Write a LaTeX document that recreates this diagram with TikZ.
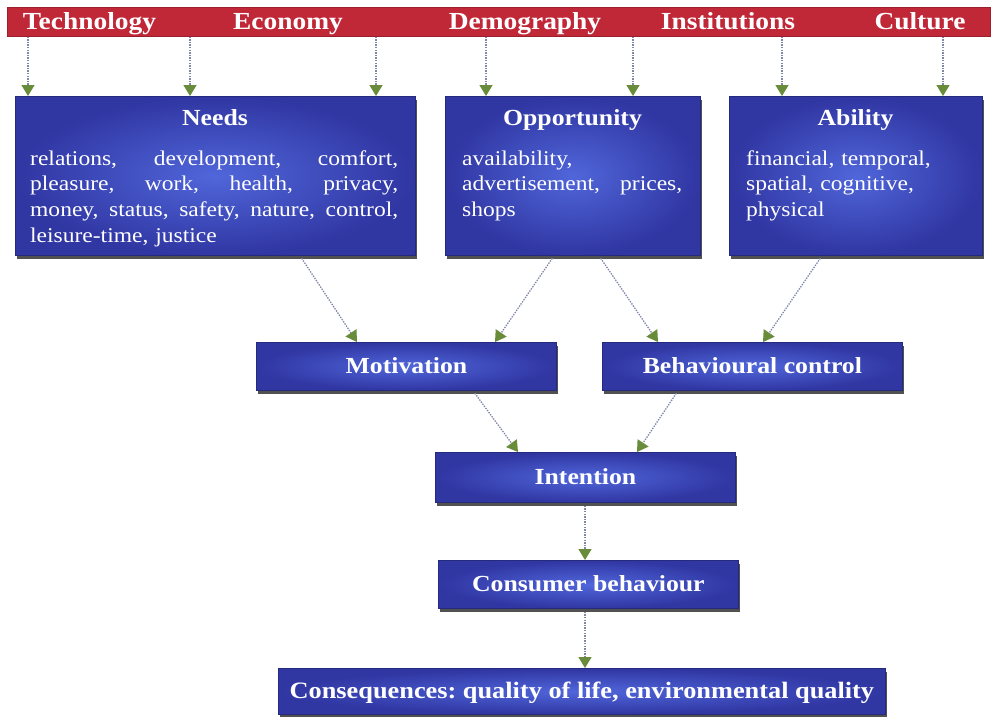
\documentclass[tikz,border=0pt]{standalone}
\usepackage{fontspec}
\setmainfont[FakeStretch=1.12]{Liberation Serif}
\usetikzlibrary{arrows.meta,shadows}
\definecolor{barred}{RGB}{192,40,56}
\definecolor{boxblue}{RGB}{48,54,162}
\definecolor{boxlight}{RGB}{80,102,218}
\definecolor{boxedge}{RGB}{38,42,125}
\definecolor{tipgreen}{RGB}{104,140,58}
\definecolor{dotgray}{RGB}{128,134,168}
\tikzset{
  boxsty/.style={draw=boxedge, line width=0.8pt, shading=radial, inner color=boxlight, outer color=boxblue,
    drop shadow={shadow xshift=2pt, shadow yshift=-3.5pt, fill=black!80, opacity=0.85},
    inner sep=0pt, anchor=north west, text=white},
  smallbox/.style={boxsty, font=\bfseries\fontsize{23}{27}\selectfont, text height=15pt, text depth=0pt},
  titletxt/.style={anchor=base, text=white, inner sep=0pt, font=\bfseries\fontsize{23}{27}\selectfont},
  bodytxt/.style={anchor=north west, text=white, inner sep=0pt, align=left, font=\fontsize{21}{25.7}\selectfont},
  bartxt/.style={anchor=base, text=white, inner sep=0pt, font=\bfseries\fontsize{24.5}{28}\selectfont},
  arr/.style={draw=dotgray, line width=1.3pt, dash pattern=on 1.4pt off 1.2pt,
    -{Triangle[length=11pt,width=13pt,color=tipgreen,fill=tipgreen]}},
}
\frenchspacing
\begin{document}
\begin{tikzpicture}[x=1pt,y=-1pt]
\useasboundingbox (0,0) rectangle (993,716);
% top bar
\node[fill=barred, draw=barred!80!black, line width=0.6pt, anchor=north west, minimum width=983pt, minimum height=29pt, inner sep=0pt] (bar) at (7,7) {};
\node[bartxt] (tech) at (89.5,29) {Technology};
\node[bartxt] (econ) at (288,29) {Economy};
\node[bartxt] (demo) at (525,29) {Demography};
\node[bartxt] (inst) at (728,29) {Institutions};
\node[bartxt] (cult) at (920,29) {Culture};
% big boxes
\node[boxsty, minimum width=400pt, minimum height=159pt] (needs) at (15,96) {};
\node[boxsty, minimum width=255pt, minimum height=159pt] (opp) at (445,96) {};
\node[boxsty, minimum width=253pt, minimum height=159pt] (abil) at (729,96) {};
\node[titletxt] (needsT) at (215,125) {Needs};
\node[titletxt] (oppT) at (572.5,125) {Opportunity};
\node[titletxt] (abilT) at (855.5,125) {Ability};
\node[bodytxt, text width=370pt] (needsB) at (30,147) {\strut\makebox[368pt][l]{relations,\hfill development,\hfill comfort,}\\
\makebox[368pt][l]{pleasure,\hfill work,\hfill health,\hfill privacy,}\\
\makebox[368pt][l]{money,\hfill status,\hfill safety,\hfill nature,\hfill control,}\\
leisure-time, justice};
\node[bodytxt, text width=222pt] (oppB) at (462,147) {\strut availability,\\
\makebox[220pt][l]{advertisement,\hfill prices,}\\
shops};
\node[bodytxt, text width=230pt] (abilB) at (746,147) {\strut financial, temporal,\\
spatial, cognitive,\\
physical};
% small boxes
\node[smallbox, minimum width=300pt, minimum height=48pt] (motiv) at (256,342) {Motivation};
\node[smallbox, minimum width=300pt, minimum height=48pt] (behav) at (602,342) {Behavioural control};
\node[smallbox, minimum width=300pt, minimum height=50pt] (inten) at (435,452) {Intention};
\node[smallbox, minimum width=300pt, minimum height=48pt] (consb) at (438,560) {Consumer behaviour};
\node[smallbox, minimum width=607pt, minimum height=46pt, font=\bfseries\fontsize{23.5}{27}\selectfont] (conseq) at (278,668) {Consequences: quality of life, environmental quality};
% x positions for connectors
\coordinate (xa) at (28,0);
\coordinate (xb) at (190,0);
\coordinate (xc) at (376,0);
\coordinate (xd) at (486,0);
\coordinate (xe) at (633,0);
\coordinate (xf) at (782,0);
\coordinate (xg) at (943,0);
\coordinate (n1) at (300,0);
\coordinate (m1) at (357,0);
\coordinate (o1) at (554,0);
\coordinate (m2) at (495,0);
\coordinate (o2) at (599,0);
\coordinate (b1) at (658,0);
\coordinate (a1) at (822,0);
\coordinate (b2) at (763,0);
\coordinate (mo) at (473,0);
\coordinate (i1) at (518,0);
\coordinate (bo) at (678,0);
\coordinate (i2) at (637,0);
\coordinate (cx) at (585,0);
% connectors
\draw[arr] (bar.south -| xa) -- (needs.north -| xa);
\draw[arr] (bar.south -| xb) -- (needs.north -| xb);
\draw[arr] (bar.south -| xc) -- (needs.north -| xc);
\draw[arr] (bar.south -| xd) -- (opp.north -| xd);
\draw[arr] (bar.south -| xe) -- (opp.north -| xe);
\draw[arr] (bar.south -| xf) -- (abil.north -| xf);
\draw[arr] (bar.south -| xg) -- (abil.north -| xg);
\draw[arr, shorten <=3pt] (needs.south -| n1) -- (motiv.north -| m1);
\draw[arr, shorten <=3pt] (opp.south -| o1) -- (motiv.north -| m2);
\draw[arr, shorten <=3pt] (opp.south -| o2) -- (behav.north -| b1);
\draw[arr, shorten <=3pt] (abil.south -| a1) -- (behav.north -| b2);
\draw[arr, shorten <=3pt] (motiv.south -| mo) -- (inten.north -| i1);
\draw[arr, shorten <=3pt] (behav.south -| bo) -- (inten.north -| i2);
\draw[arr, shorten <=3pt] (inten.south -| cx) -- (consb.north -| cx);
\draw[arr, shorten <=3pt] (consb.south -| cx) -- (conseq.north -| cx);
\end{tikzpicture}
\end{document}
